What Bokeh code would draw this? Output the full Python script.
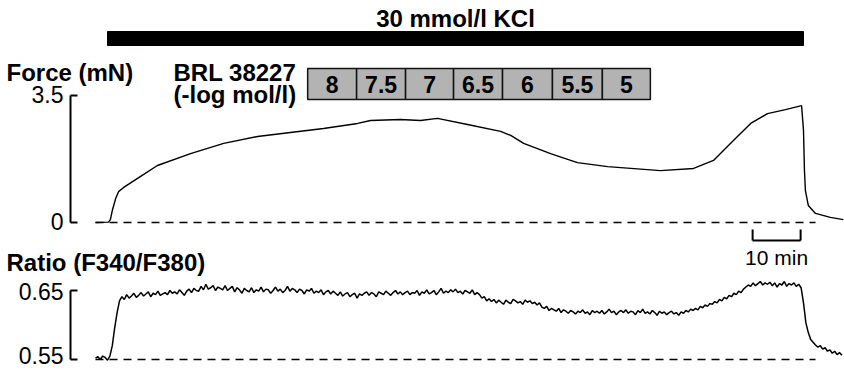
from bokeh.plotting import figure
from bokeh.models import Range1d
from bokeh.core.properties import value
from bokeh.embed import file_html
from bokeh.resources import INLINE

# ---------------- data ----------------
# Force trace: time (min) and force (mN)
force_t = [0, 2.7, 3.1, 3.5, 4.2, 4.8, 5.8, 9.4, 12.9, 19.8, 26.7, 33.75, 40.6,
           47.5, 54.6, 57.3, 63.5, 67.7, 71.25, 77.5, 84.4, 86.5, 89.2, 94.8,
           100.4, 106.7, 117.7, 124.6, 128.75, 132.9, 136.5, 140.0, 143.75,
           147.1, 147.5, 147.7, 147.9, 148.5, 150.0, 153.1, 155.8]
force_mn = [0, 0.01, 0.08, 0.33, 0.66, 0.85, 0.96, 1.27, 1.57, 1.90, 2.18, 2.37,
            2.48, 2.59, 2.73, 2.81, 2.84, 2.81, 2.87, 2.70, 2.51, 2.40, 2.18,
            1.90, 1.65, 1.54, 1.43, 1.49, 1.71, 2.26, 2.73, 3.00, 3.11, 3.22,
            2.54, 1.43, 0.88, 0.47, 0.25, 0.14, 0.08]

# Fura-2 ratio trace, sampled every 0.5 min, in thousandths (F340/F380 x 1000)
ratio_step_min = 0.5
ratio_milli = [
    552, 554, 550, 555, 553, 549, 555, 570, 596, 618,
    635, 641, 637, 644, 639, 642, 646, 640, 643, 647,
    642, 645, 648, 641, 646, 644, 649, 643, 645, 647,
    644, 650, 646, 648, 645, 651, 647, 643, 649, 652,
    647, 653, 650, 649, 656, 651, 659, 652, 654, 657,
    650, 655, 653, 651, 657, 650, 653, 656, 648, 654,
    651, 646, 653, 650, 648, 654, 647, 651, 649, 655,
    648, 652, 651, 646, 650, 655, 649, 652, 647, 650,
    656, 649, 653, 651, 647, 652, 650, 645, 651, 649,
    653, 646, 649, 647, 651, 644, 648, 650, 645, 649,
    646, 643, 648, 642, 645, 647, 641, 644, 646, 639,
    645, 643, 646, 648, 643, 647, 645, 641, 648, 646,
    644, 649, 646, 643, 647, 650, 645, 648, 644, 647,
    649, 644, 647, 646, 650, 643, 648, 646, 651, 645,
    647, 650, 644, 648, 653, 646, 649, 647, 651, 648,
    652, 647, 649, 645, 650, 648, 646, 651, 644, 647,
    644, 639, 641, 635, 638, 634, 637, 632, 636, 633,
    630, 636, 633, 631, 637, 635, 632, 634, 630, 636,
    633, 635, 631, 633, 629, 632, 626, 624, 627, 621,
    624, 622, 620, 624, 618, 622, 620, 617, 621, 619,
    616, 620, 618, 622, 617, 619, 615, 621, 618, 620,
    617, 621, 616, 619, 623, 618, 620, 615, 619, 621,
    618, 622, 617, 620, 619, 615, 621, 618, 623, 617,
    619, 616, 621, 618, 614, 620, 617, 619, 615, 618,
    620, 616, 618, 614, 619, 617, 621, 619, 623, 621,
    624, 622, 627, 625, 629, 627, 631, 630, 634, 632,
    637, 635, 640, 638, 643, 641, 646, 644, 649, 647,
    652, 655, 658, 656, 661, 657, 660, 663, 658, 661,
    659, 662, 657, 661, 655, 660, 658, 663, 656, 660,
    658, 661, 656, 659, 654, 632, 603, 589, 579, 575,
    571, 568, 570, 565, 567, 562, 564, 559, 562, 557, 560, 556,
]

# KCl application (min)
kcl_label = "30 mmol/l KCl"
kcl_on, kcl_off = 2.5, 147.5

# BRL 38227 concentration steps (-log mol/l) and their edges in min
brl_labels = ["8", "7.5", "7", "6.5", "6", "5.5", "5"]
brl_edges = [44.2, 54.4, 64.6, 74.6, 84.8, 95.2, 105.6, 115.6]

# axis ticks
force_ticks = [0, 3.5]
force_tick_labels = ["0", "3.5"]
ratio_ticks = [0.55, 0.65]
ratio_tick_labels = ["0.55", "0.65"]

# time scale bar
scale_len_min = 10
scale_end_min = 146.9
baseline_end_min = 150

# ---------------- layout helpers (page pixels -> data units) ----------------
W, H = 844, 370
PX_PER_MIN = 4.8
X0_PAGE = 95.0           # page x of t = 0
F0_PAGE = 222.0          # page y of 0 mN
PX_PER_MN = 127.0 / 3.5
R65_PAGE = 290.0         # page y of ratio 0.65
PX_PER_R = 690.0


def fx(px):
    return (px - X0_PAGE) / PX_PER_MIN


def fy(py):
    return (F0_PAGE - py) / PX_PER_MN


def ry(py):
    return 0.65 + (R65_PAGE - py) / PX_PER_R


p = figure(width=W, height=H,
           x_range=Range1d(fx(0), fx(W)),
           y_range=Range1d(fy(H), fy(0)),
           output_backend="svg", toolbar_location=None,
           x_axis_type=None, y_axis_type=None, min_border=0)
p.extra_y_ranges = {"ratio": Range1d(ry(H), ry(0))}
p.outline_line_color = None
p.background_fill_color = "white"
p.border_fill_color = "white"

FONT = value("Liberation Sans")

# baselines
p.line([0, baseline_end_min], [force_ticks[0]] * 2, line_color="black",
       line_width=1.3, line_dash="8 6")
p.line([0, baseline_end_min], [ratio_ticks[0]] * 2, line_color="black",
       line_width=1.3, line_dash="8 6", y_range_name="ratio")

# traces
p.line(force_t, force_mn, line_color="black", line_width=1.4)
ratio_t = [i * ratio_step_min for i in range(len(ratio_milli))]
ratio_v = [v / 1000.0 for v in ratio_milli]
p.line(ratio_t, ratio_v, line_color="black", line_width=1.5,
       y_range_name="ratio")

# axis brackets
ax_t = fx(70)
tick_len = 7 / PX_PER_MIN
p.segment(x0=[ax_t], y0=[force_ticks[0]], x1=[ax_t], y1=[force_ticks[-1]],
          line_color="black", line_width=2)
p.segment(x0=[ax_t] * len(force_ticks), y0=force_ticks,
          x1=[ax_t + tick_len] * len(force_ticks), y1=force_ticks,
          line_color="black", line_width=2)
p.segment(x0=[ax_t], y0=[ratio_ticks[0]], x1=[ax_t], y1=[ratio_ticks[-1]],
          line_color="black", line_width=2, y_range_name="ratio")
p.segment(x0=[ax_t] * len(ratio_ticks), y0=ratio_ticks,
          x1=[ax_t + tick_len] * len(ratio_ticks), y1=ratio_ticks,
          line_color="black", line_width=2, y_range_name="ratio")
p.text(x=[fx(63)] * len(force_ticks), y=force_ticks, text=force_tick_labels,
       text_align="right", text_baseline="middle", text_font=FONT,
       text_font_size="23px", text_color="black", y_offset=-1)
# upper ratio label sits on its tick, lower one is lifted to stay inside
p.text(x=[fx(63)], y=[ratio_ticks[-1]], text=[ratio_tick_labels[-1]],
       text_align="right", text_baseline="middle", text_font=FONT,
       text_font_size="23px", text_color="black", y_range_name="ratio",
       y_offset=1)
p.text(x=[fx(63)], y=[ratio_ticks[0]], text=[ratio_tick_labels[0]],
       text_align="right", text_baseline="middle", text_font=FONT,
       text_font_size="23px", text_color="black", y_range_name="ratio",
       y_offset=-4)

# KCl bar
p.quad(left=[kcl_on], right=[kcl_off], top=[fy(31)], bottom=[fy(45)],
       fill_color="black", line_color="black")
p.text(x=[(kcl_on + kcl_off) / 2], y=[fy(18)], text=[kcl_label],
       text_align="center", text_baseline="middle", text_font=FONT,
       text_font_size="24px", text_font_style="bold", text_color="black")

# BRL boxes
p.quad(left=brl_edges[:-1], right=brl_edges[1:],
       top=[fy(68)] * len(brl_labels), bottom=[fy(99)] * len(brl_labels),
       fill_color="#b3b3b3", line_color="#111111", line_width=1.5)
p.text(x=[(a + b) / 2 for a, b in zip(brl_edges[:-1], brl_edges[1:])],
       y=[fy(84)] * len(brl_labels), text=brl_labels,
       text_align="center", text_baseline="middle", text_font=FONT,
       text_font_size="23px", text_font_style="bold", text_color="black")
p.text(x=[fx(173), fx(173)], y=[fy(72), fy(94)],
       text=["BRL 38227", "(-log mol/l)"],
       text_align="left", text_baseline="middle", text_font=FONT,
       text_font_size="24px", text_font_style="bold", text_color="black")

# panel titles
p.text(x=[fx(6), fx(6)], y=[fy(72), fy(262)],
       text=["Force (mN)", "Ratio (F340/F380)"],
       text_align="left", text_baseline="middle", text_font=FONT,
       text_font_size="24px", text_font_style="bold", text_color="black")

# time scale bar
s0 = scale_end_min - scale_len_min
p.segment(x0=[s0, s0, scale_end_min], y0=[fy(240)] * 3,
          x1=[scale_end_min, s0, scale_end_min], y1=[fy(240), fy(229), fy(229)],
          line_color="black", line_width=2)
p.text(x=[(s0 + scale_end_min) / 2], y=[fy(257)],
       text=[f"{scale_len_min} min"], text_align="center",
       text_baseline="middle", text_font=FONT, text_font_size="21px",
       text_color="black")

open("out.html", "w").write(file_html(p, INLINE))
